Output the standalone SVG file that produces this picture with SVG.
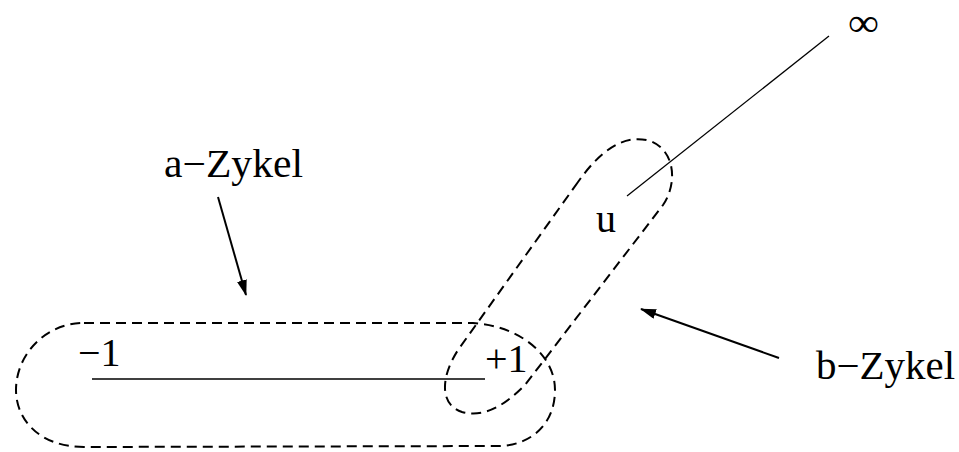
<svg xmlns="http://www.w3.org/2000/svg" width="959" height="452" viewBox="0 0 959 452">
<style>
.t{font-family:"Liberation Serif","Times New Roman",serif;font-size:40px;fill:#000}
.d{fill:none;stroke:#000;stroke-width:2;stroke-dasharray:10 6}
.l{fill:none;stroke:#000;stroke-width:1.3}
.a{fill:none;stroke:#000;stroke-width:2}
</style>
<defs>
<marker id="ah" viewBox="0 0 16 10" refX="15" refY="5" markerWidth="16" markerHeight="10" markerUnits="userSpaceOnUse" orient="auto">
<path d="M0,0 L16,5 L0,10 Z" fill="#000"/>
</marker>
</defs>
<rect width="959" height="452" fill="#fff"/>
<g id="connectors">
<line class="l" x1="92" y1="379" x2="485" y2="379"/>
<line class="l" x1="627" y1="196" x2="829" y2="36"/>
<line class="a" x1="218" y1="197" x2="246" y2="295" marker-end="url(#ah)"/>
<line class="a" x1="779" y1="358" x2="641" y2="309" marker-end="url(#ah)"/>
</g>
<g id="a-cycle">
<path class="d" d="M84,323 L473,323 C520,326 555,355 555,390 C555,425 530,445 500,446 L84,447 C40,447 16,420 16,390 C16,355 45,323 84,323 Z"/>
</g>
<g id="b-cycle">
<path class="d" d="M578,182 L458,350 C440,378 440,405 462,412 C485,418 505,405 525,385 L663,205 C678,183 675,150 650,141 C620,132 595,158 578,182 Z"/>
</g>
<g id="labels">
<text class="t" x="78" y="366">−1</text>
<text class="t" x="485" y="372">+1</text>
<text class="t" x="596" y="232">u</text>
<text class="t" x="848" y="36" textLength="31" lengthAdjust="spacingAndGlyphs">∞</text>
<text class="t" x="164" y="177" textLength="139" lengthAdjust="spacingAndGlyphs">a−Zykel</text>
<text class="t" x="816" y="379" textLength="139" lengthAdjust="spacingAndGlyphs">b−Zykel</text>
</g>
</svg>
